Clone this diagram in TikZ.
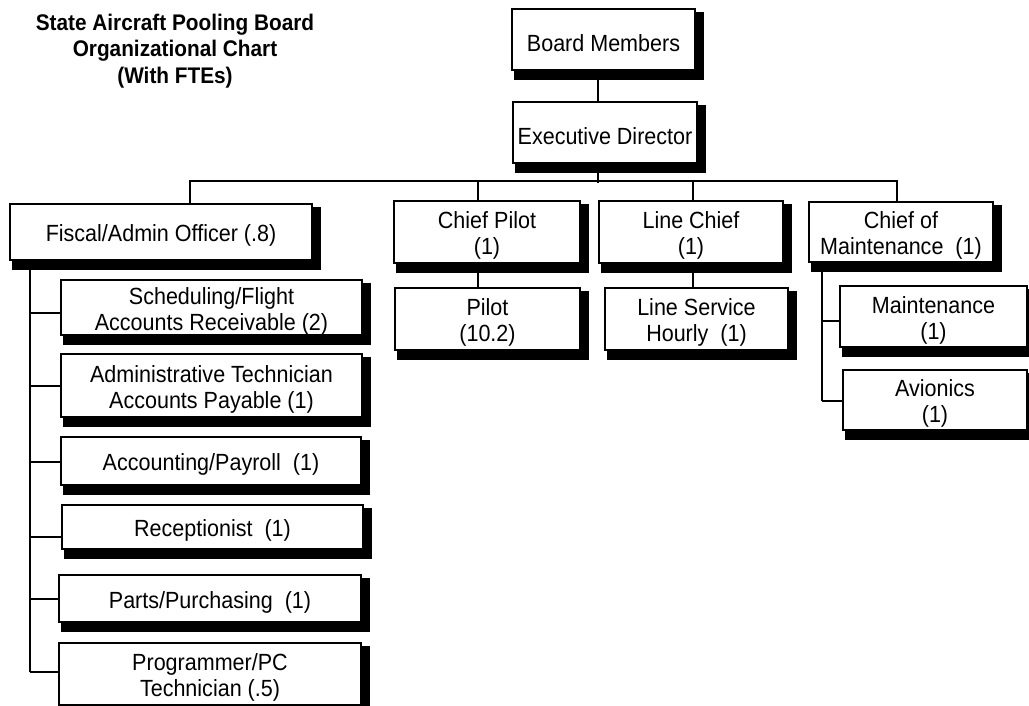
\documentclass[tikz,border=0pt]{standalone}
\usepackage{fontspec}
\setmainfont[FakeStretch=0.92]{Liberation Sans}
\usetikzlibrary{backgrounds}
\newcommand{\twol}[2]{\raisebox{-4.5pt}[\height][\depth]{\begin{tabular}{@{}c@{}}#1\\#2\end{tabular}}}
\begin{document}
\begin{tikzpicture}[x=1pt,y=-1pt,
  box/.style={draw=black, line width=1.8pt, fill=white, align=center, inner sep=0pt,
    font=\fontsize{23.4}{26}\selectfont, execute at begin node={\rule{0pt}{24pt}}},
  conn/.style={draw=black, line width=1.4pt},
  ttl/.style={align=center, font=\fontsize{22.6}{26.5}\selectfont\bfseries}]
\useasboundingbox (0,0) rectangle (1029,706);

\node[ttl] (title) at (175,51) {State Aircraft Pooling Board\\Organizational Chart\\(With FTEs)};

\node[box, minimum width=183pt, minimum height=61pt] (board) at (603.5,39.5) {Board Members};
\node[box, minimum width=184pt, minimum height=61pt] (exec) at (605,132.5) {Executive Director};

\node[box, minimum width=302pt, minimum height=56pt] (fiscal) at (161,232) {Fiscal/Admin Officer (.8)};
\node[box, minimum width=186pt, minimum height=62pt] (cpilot) at (487,232) {\twol{Chief Pilot}{(1)}};
\node[box, minimum width=184pt, minimum height=62pt] (lchief) at (691,232) {\twol{Line Chief}{(1)}};
\node[box, minimum width=184pt, minimum height=60pt] (com) at (901,232) {\twol{Chief of}{Maintenance~~(1)}};

\node[box, minimum width=185pt, minimum height=62pt] (pilot) at (487.5,319) {\twol{Pilot}{(10.2)}};
\node[box, minimum width=183pt, minimum height=62pt] (lserv) at (696.5,319) {\twol{Line Service}{Hourly~~(1)}};

\node[box, minimum width=187pt, minimum height=61pt] (maint) at (933.5,316.5) {\twol{Maintenance}{(1)}};
\node[box, minimum width=184pt, minimum height=60pt] (avion) at (935,400) {\twol{Avionics}{(1)}};

\node[box, minimum width=301pt, minimum height=55pt] (sched) at (211.5,307.5) {\twol{Scheduling/Flight}{Accounts Receivable (2)}};
\node[box, minimum width=301pt, minimum height=63pt] (admin) at (211.5,385.5) {\twol{Administrative Technician}{Accounts Payable (1)}};
\node[box, minimum width=300pt, minimum height=48pt] (acct) at (211,461) {Accounting/Payroll~~(1)};
\node[box, minimum width=301pt, minimum height=44pt] (recep) at (212.5,527) {Receptionist~~(1)};
\node[box, minimum width=302pt, minimum height=47pt] (parts) at (210,598.5) {Parts/Purchasing~~(1)};
\node[box, minimum width=302pt, minimum height=62pt] (prog) at (210,674) {\twol{Programmer/PC}{Technician (.5)}};

\begin{scope}[on background layer]
  \foreach \n in {board,exec,fiscal,cpilot,lchief,com,pilot,lserv,maint,avion,sched,admin,acct,recep,parts,prog}
    \fill[black] ([shift={(3pt,-4pt)}]\n.north west) rectangle ([shift={(8pt,-9pt)}]\n.south east);
\end{scope}

% connectors
\draw[conn] ([xshift=-5.5pt]board.south) -- ([xshift=-7pt]exec.north);
\draw[conn] ([xshift=-7pt]exec.south) -- ++(0,19);
\draw[conn] ([xshift=29pt]fiscal.north) -- ++(0,-22) -| ([xshift=-4pt]com.north);
\draw[conn] ([xshift=-9pt]cpilot.north) -- ++(0,-19);
\draw[conn] ([xshift=2pt]lchief.north) -- ++(0,-19);
\draw[conn] ([xshift=-9pt]cpilot.south) -- ([xshift=-9pt]cpilot.south |- pilot.north);
\draw[conn] ([xshift=2pt]lchief.south) -- ([xshift=2pt]lchief.south |- lserv.north);

\coordinate (spL) at (30,0);
\draw[conn] (fiscal.south -| spL) -- ([yshift=2pt]prog.west -| spL);
\draw[conn] ([yshift=-5.5pt]sched.west) -- ([yshift=-5.5pt]sched.west -| spL);
\draw[conn] ([yshift=-0.5pt]admin.west) -- ([yshift=-0.5pt]admin.west -| spL);
\draw[conn] ([yshift=-1pt]acct.west) -- ([yshift=-1pt]acct.west -| spL);
\draw[conn] ([yshift=-10pt]recep.west) -- ([yshift=-10pt]recep.west -| spL);
\draw[conn] ([yshift=-0.5pt]parts.west) -- ([yshift=-0.5pt]parts.west -| spL);
\draw[conn] ([yshift=2pt]prog.west) -- ([yshift=2pt]prog.west -| spL);

\coordinate (spR) at (822,0);
\draw[conn] (com.south -| spR) -- ([yshift=-1pt]avion.west -| spR);
\draw[conn] ([yshift=-4.5pt]maint.west) -- ([yshift=-4.5pt]maint.west -| spR);
\draw[conn] ([yshift=-1pt]avion.west) -- ([yshift=-1pt]avion.west -| spR);
\end{tikzpicture}
\end{document}
